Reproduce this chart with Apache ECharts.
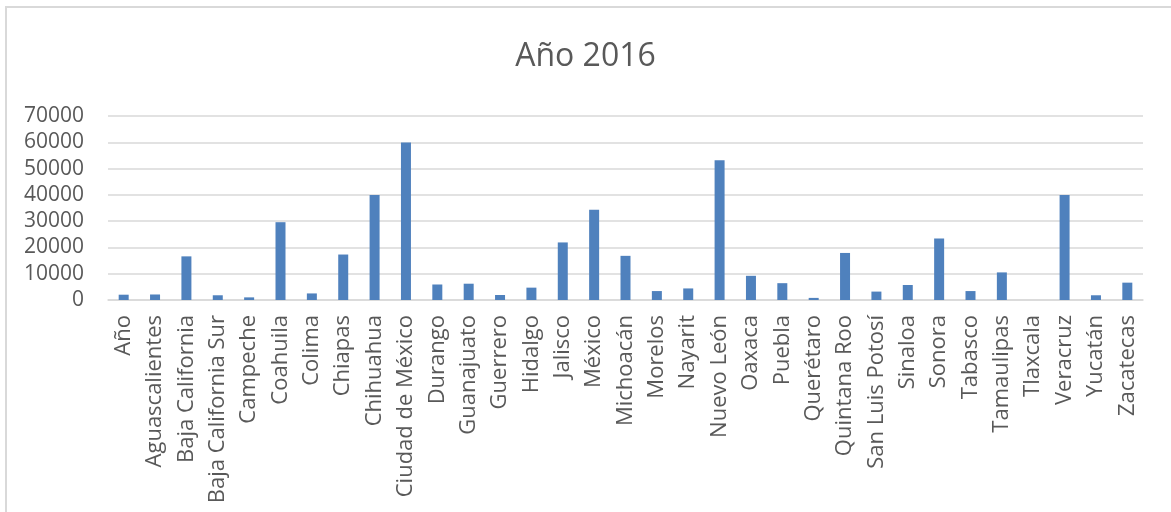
<!DOCTYPE html>
<html>
<head>
<meta charset="utf-8">
<script src="https://cdn.jsdelivr.net/npm/echarts@6/dist/echarts.min.js"></script>
<style>
html,body{margin:0;padding:0;background:#fff;}
#frame{position:absolute;left:5px;top:6px;width:1166px;height:506px;border-left:2px solid #d9d9d9;border-top:2px solid #d9d9d9;box-sizing:border-box;}
#chart{position:absolute;left:0;top:0;width:1171px;height:512px;}
</style>
</head>
<body>
<div id="frame"></div>
<div id="chart"></div>
<script>
const titleText = "Año 2016";
const categories = ["Año","Aguascalientes","Baja California","Baja California Sur","Campeche","Coahuila","Colima","Chiapas","Chihuahua","Ciudad de México","Durango","Guanajuato","Guerrero","Hidalgo","Jalisco","México","Michoacán","Morelos","Nayarit","Nuevo León","Oaxaca","Puebla","Querétaro","Quintana Roo","San Luis Potosí","Sinaloa","Sonora","Tabasco","Tamaulipas","Tlaxcala","Veracruz","Yucatán","Zacatecas"];
const values = [2016,2100,16600,1800,1000,29600,2500,17300,39900,59900,5900,6200,1900,4700,21900,34300,16800,3400,4400,53200,9200,6400,800,17900,3200,5700,23400,3400,10500,0,39900,1800,6600];
const yTicks = {min:0, max:70000, interval:10000};

const chart = echarts.init(document.getElementById('chart'), null, {renderer:'canvas'});
chart.setOption({
  animation:false,
  backgroundColor:'transparent',
  title:{text:titleText,left:'center',top:36,textStyle:{fontFamily:'Open Sans',fontSize:32,fontWeight:'normal',color:'#595959'}},
  grid:{left:108,right:28,top:116,bottom:212,containLabel:false},
  xAxis:{type:'category',data:categories,
    axisLine:{lineStyle:{color:'#d9d9d9',width:1.5}},
    axisTick:{show:false},
    axisLabel:{interval:0,rotate:90,margin:15,fontFamily:'Open Sans',fontSize:22,color:'#595959'}},
  yAxis:{type:'value',min:yTicks.min,max:yTicks.max,interval:yTicks.interval,
    axisLine:{show:false},axisTick:{show:false},
    splitLine:{lineStyle:{color:'#d9d9d9',width:1.5}},
    axisLabel:{margin:24,fontFamily:'Open Sans',fontSize:21,color:'#595959',formatter:function(v){return String(v);}}},
  series:[{type:'bar',data:values,barWidth:10,itemStyle:{color:'#4f81bd'}}]
});
</script>
</body>
</html>
